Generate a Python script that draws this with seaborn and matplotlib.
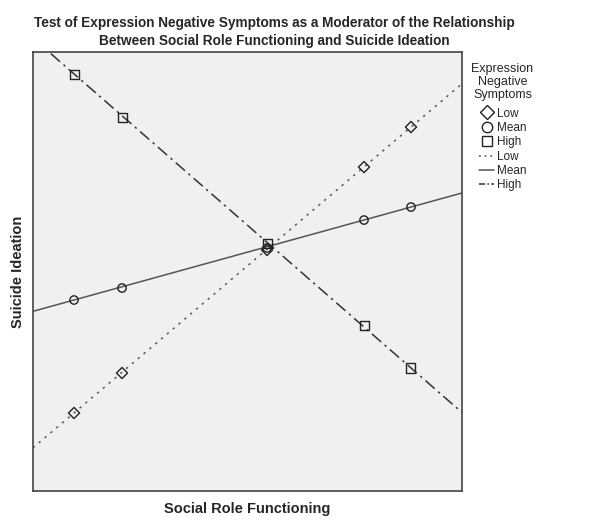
import matplotlib
matplotlib.use("Agg")
import matplotlib.pyplot as plt
from matplotlib.lines import Line2D
import seaborn as sns
import pandas as pd

sns.set_style("white")
plt.rcParams['font.family'] = ['Liberation Sans', 'DejaVu Sans']

# Marker positions (arbitrary scale, no ticks shown)
x_points = [9.56, 20.75, 54.55, 77.16, 88.11]
low_points = [17.77, 26.88, 54.90, 73.80, 82.92]
mean_points = [43.51, 46.24, 55.35, 61.73, 64.69]
high_points = [94.99, 85.19, 56.49, 37.59, 28.02]

# Fitted lines at the axis edges
x_line = [0, 100]
low_line = [9.84, 92.78]
mean_line = [40.93, 67.90]
high_line = [103.19, 17.88]

levels = ["Low", "Mean", "High"]

fig = plt.figure(figsize=(6, 5.25), dpi=100)
ax = fig.add_axes([0.055, 0.0648, 0.715, 0.836])
ax.set_facecolor("#F0F0F0")

line_styles = {"Low": (0, (1.5, 3.5)), "Mean": "-", "High": (0, (8, 3, 1.5, 3))}
legend_styles = {"Low": (0, (1.2, 2.5)), "Mean": "-", "High": (0, (4, 1.5, 1, 1.5))}
line_colors = {"Low": "#555555", "Mean": "#555555", "High": "#333333"}
markers = {"Low": "D", "Mean": "o", "High": "s"}
msizes = {"Low": 32, "Mean": 36, "High": 42}

for lvl, ys in zip(levels, [low_line, mean_line, high_line]):
    sns.lineplot(x=x_line, y=ys, ax=ax, color=line_colors[lvl],
                 linestyle=line_styles[lvl], linewidth=1.1, zorder=2)

for lvl, ys in zip(levels, [low_points, mean_points, high_points]):
    sns.scatterplot(x=x_points, y=ys, ax=ax, marker=markers[lvl], s=msizes[lvl],
                    facecolor="none", edgecolor="#222222", linewidth=1.0, zorder=3)

ax.set_xlim(0, 100)
ax.set_ylim(0, 100)
ax.set_xticks([])
ax.set_yticks([])
for sp in ax.spines.values():
    sp.set_visible(True)
    sp.set_color("#444444")
    sp.set_linewidth(1.2)

ax.set_xlabel("Social Role Functioning", fontsize=10.5, fontweight="bold", labelpad=8)
ax.set_ylabel("Suicide Ideation", fontsize=10.5, fontweight="bold", labelpad=6)

fig.text(0.457, 0.969, "Test of Expression Negative Symptoms as a Moderator of the Relationship\nBetween Social Role Functioning and Suicide Ideation",
         ha="center", va="top", fontsize=9.8, fontweight="bold", linespacing=1.35)

handles = []
for lvl in levels:
    handles.append(Line2D([], [], linestyle="none", marker=markers[lvl], markersize=7.5,
                          markerfacecolor="none", markeredgecolor="#222222", markeredgewidth=1.0))
for lvl in levels:
    handles.append(Line2D([], [], color=line_colors[lvl], linestyle=legend_styles[lvl], linewidth=1.1))
labels = levels + levels

leg = fig.legend(handles, labels, title="Expression\nNegative\nSymptoms",
                 loc="upper left", bbox_to_anchor=(0.772, 0.896), frameon=False,
                 fontsize=8.5, title_fontsize=9, handlelength=1.3, handletextpad=0.2,
                 labelspacing=0.2, borderpad=0.2)
leg.get_title().set_multialignment("center")
leg.get_title().set_linespacing(1.1)
leg._legend_box.sep = 5

fig.savefig("out.png", dpi=100)
